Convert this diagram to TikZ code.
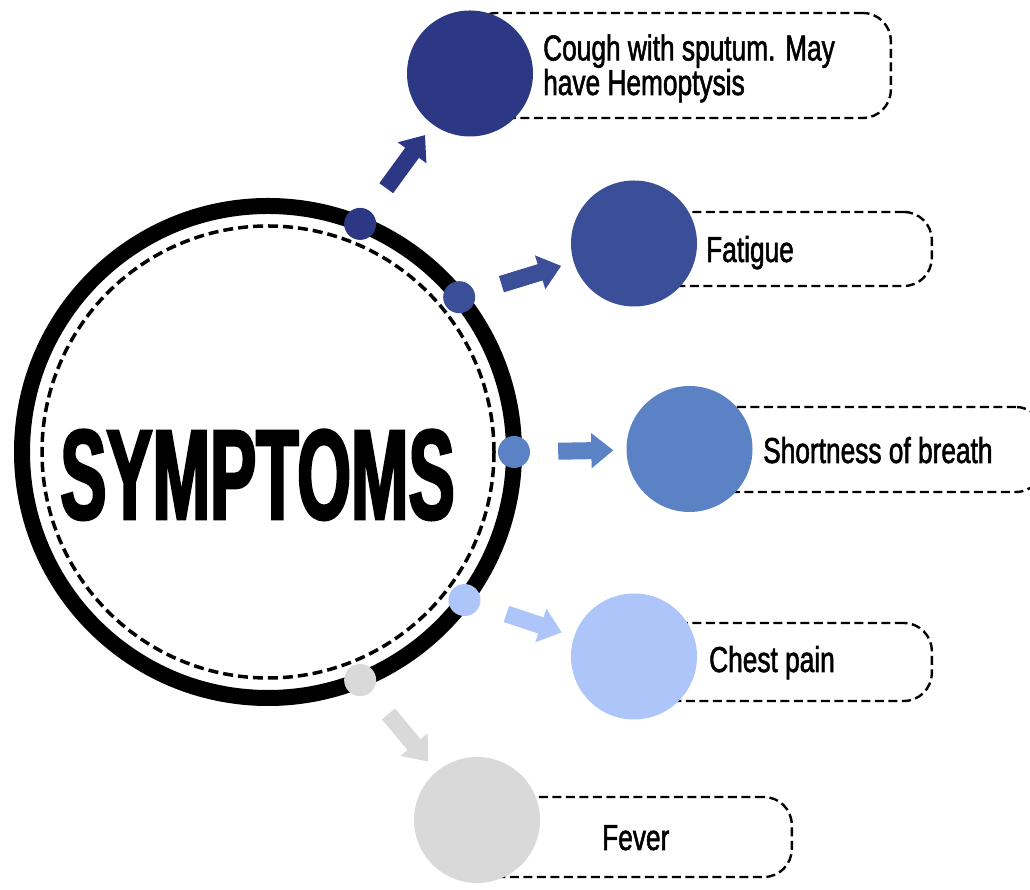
\documentclass[tikz,border=0pt]{standalone}
\usepackage{fontspec}
\usepackage{tikz}
\usetikzlibrary{arrows.meta}

\newfontfamily\labelfont[FakeStretch=0.73, FakeBold=1.5]{Liberation Sans}
\newfontfamily\titlefont[FakeStretch=0.54, FakeBold=2]{Liberation Sans Bold}

\definecolor{navyA}{RGB}{45,56,133}
\definecolor{navyB}{RGB}{59,78,152}
\definecolor{blueC}{RGB}{91,130,196}
\definecolor{blueD}{RGB}{173,197,248}
\definecolor{greyE}{RGB}{217,217,217}

\tikzset{
  bubble/.style={circle, minimum size=126pt, inner sep=0pt},
  ringdot/.style={circle, minimum size=32pt, inner sep=0pt},
  tagbox/.style={draw, line width=2.4pt, dash pattern=on 9pt off 4.5pt, rounded corners=28pt, anchor=east, inner sep=0pt},
  tagtext/.style={anchor=base west, inner sep=0pt, font=\labelfont\fontsize{36}{33}\selectfont, align=left},
  push/.style={line width=17pt, -{Triangle[width=34pt,length=22pt]}, shorten <=28pt, shorten >=13pt}
}

\begin{document}
\begin{tikzpicture}[x=1pt, y=1pt]
\path[use as bounding box, clip] (0,0) rectangle (1030,890);

% dashed tags, behind the bubbles
\node[tagbox, minimum width=422pt, minimum height=105pt] (coughtag) at (892,824.5) {};
\node[tagbox, minimum width=299pt, minimum height=74pt] (fatiguetag) at (933,641) {};
\node[tagbox, minimum width=356pt, minimum height=85pt] (breathtag) at (1045,440.5) {};
\node[tagbox, minimum width=299pt, minimum height=78pt] (chesttag) at (933,228) {};
\node[tagbox, minimum width=316pt, minimum height=80pt] (fevertag) at (793,53) {};

\node[bubble, fill=navyA] (cough) at (470,816.5) {};
\node[bubble, fill=navyB] (fatigue) at (634,646.5) {};
\node[bubble, fill=blueC] (breath) at (689.5,441) {};
\node[bubble, fill=blueD] (chest) at (634,233.5) {};
\node[bubble, fill=greyE] (fever) at (477,70) {};

% the hub
\node[circle, draw, line width=16pt, minimum size=492pt, inner sep=0pt, outer sep=0pt] (hub) at (268,438) {};
\draw[line width=3.5pt, dash pattern=on 10pt off 5pt] (hub.center) circle (226pt);
\node[anchor=base, inner sep=0pt, font=\titlefont\fontsize{128}{128}\selectfont] (title) at (257.5,371) {SYMPTOMS};

\node[ringdot, fill=navyA] (coughdot) at (hub.68) {};
\node[ringdot, fill=navyB] (fatiguedot) at (hub.39) {};
\node[ringdot, fill=blueC] (breathdot) at (hub.0) {};
\node[ringdot, fill=blueD] (chestdot) at (hub.-37) {};
\node[ringdot, fill=greyE] (feverdot) at (hub.-68) {};

\draw[push, navyA] (coughdot) -- (cough);
\draw[push, navyB] (fatiguedot) -- (fatigue);
\draw[push, blueC] (breathdot) -- (breath);
\draw[push, blueD] (chestdot) -- (chest);
\draw[push, greyE] (feverdot) -- (fever);

\node[tagtext] (coughtext) at (543,795) {Cough with sputum. May\\have Hemoptysis};
\node[tagtext] (fatiguetext) at (706,628) {Fatigue};
\node[tagtext] (breathtext) at (763,427) {Shortness of breath};
\node[tagtext] (chesttext) at (709,218) {Chest pain};
\node[tagtext] (fevertext) at (602,40) {Fever};
\end{tikzpicture}
\end{document}
